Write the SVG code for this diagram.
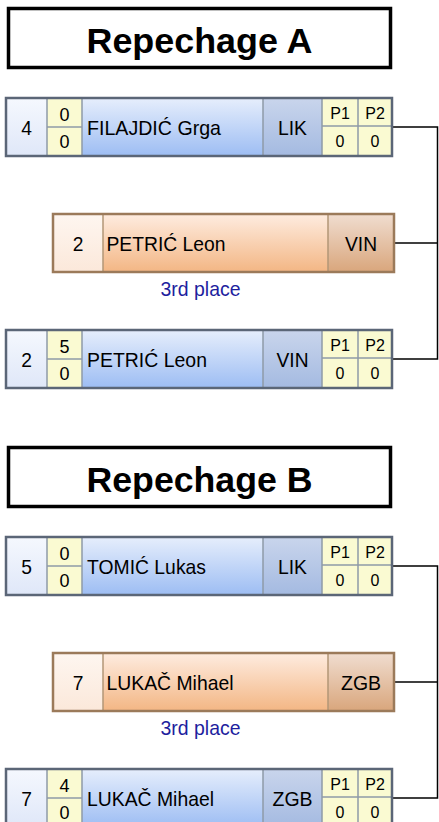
<svg xmlns="http://www.w3.org/2000/svg" width="439" height="822" viewBox="0 0 439 822">
<defs>
<linearGradient id="gNum" x1="0" y1="0" x2="0" y2="1"><stop offset="0" stop-color="#f5f8fe"/><stop offset="1" stop-color="#dfe7f8"/></linearGradient>
<linearGradient id="gName" x1="0" y1="0" x2="0" y2="1"><stop offset="0" stop-color="#e6eefc"/><stop offset="1" stop-color="#9dbdf3"/></linearGradient>
<linearGradient id="gClub" x1="0" y1="0" x2="0" y2="1"><stop offset="0" stop-color="#c9d5ec"/><stop offset="1" stop-color="#a4bae1"/></linearGradient>
<linearGradient id="oNum" x1="0" y1="0" x2="0" y2="1"><stop offset="0" stop-color="#fef6f0"/><stop offset="1" stop-color="#fbe8da"/></linearGradient>
<linearGradient id="oName" x1="0" y1="0" x2="0" y2="1"><stop offset="0" stop-color="#feece0"/><stop offset="1" stop-color="#f3b684"/></linearGradient>
<linearGradient id="oClub" x1="0" y1="0" x2="0" y2="1"><stop offset="0" stop-color="#f0ddd0"/><stop offset="1" stop-color="#d9a67c"/></linearGradient>
</defs>
<style>
text{font-family:"Liberation Sans",Arial,sans-serif;fill:#000}
.title{font-size:35px;font-weight:bold;text-anchor:middle}
.tbox{fill:#fff;stroke:#000;stroke-width:3.5}
.big{font-size:21px}
.mid{text-anchor:middle}
.sc{font-size:18px;text-anchor:middle}
.p{font-size:16px;text-anchor:middle}
.yl{fill:#fafad2}
.sep{stroke:#8f9aa8;stroke-width:1.5}
.osep{stroke:#b39677;stroke-width:1.5}
.bout{fill:none;stroke:#5b6677;stroke-width:2.5}
.oout{fill:none;stroke:#9b7a5a;stroke-width:2.5}
.third{font-size:21px;text-anchor:middle;fill:#1e1e9e}
.conn{fill:none;stroke:#000;stroke-width:1.5}
</style>

<g id="titleA"><rect class="tbox" x="8.5" y="8.5" width="382" height="59"/><text class="title" x="199.5" y="52.5" textLength="226" lengthAdjust="spacingAndGlyphs">Repechage A</text></g>

<g id="connectorsA">
<path class="conn" d="M392 127 H437.5 V359 H392"/>
<path class="conn" d="M394 243 H437.5"/>
</g>

<g id="A1">
<rect x="6" y="98" width="41" height="58" fill="url(#gNum)"/>
<rect class="yl" x="47" y="98" width="35" height="58"/>
<rect x="82" y="98" width="181" height="58" fill="url(#gName)"/>
<rect x="263" y="98" width="59" height="58" fill="url(#gClub)"/>
<rect class="yl" x="322" y="98" width="70" height="58"/>
<path class="sep" d="M47 98V156M82 98V156M263 98V156M322 98V156M358 98V156M47 127H82M322 126H392"/>
<rect class="bout" x="6" y="98" width="386" height="58"/>
<text class="big mid" x="26.5" y="135" textLength="10.7" lengthAdjust="spacingAndGlyphs">4</text>
<text class="sc" x="64.5" y="121">0</text><text class="sc" x="64.5" y="147.5">0</text>
<text class="big" x="87" y="135" textLength="134" lengthAdjust="spacingAndGlyphs">FILAJDIĆ Grga</text>
<text class="big mid" x="292.5" y="135" textLength="29" lengthAdjust="spacingAndGlyphs">LIK</text>
<text class="p" x="340" y="119">P1</text><text class="p" x="375" y="119">P2</text>
<text class="p" x="340" y="147">0</text><text class="p" x="375" y="147">0</text>
</g>

<g id="A2">
<rect x="53" y="214" width="50" height="58" fill="url(#oNum)"/>
<rect x="103" y="214" width="225" height="58" fill="url(#oName)"/>
<rect x="328" y="214" width="66" height="58" fill="url(#oClub)"/>
<path class="osep" d="M103 214V272M328 214V272"/>
<rect class="oout" x="53" y="214" width="341" height="58"/>
<text class="big mid" x="78" y="251" textLength="10.7" lengthAdjust="spacingAndGlyphs">2</text>
<text class="big" x="106.5" y="251" textLength="119" lengthAdjust="spacingAndGlyphs">PETRIĆ Leon</text>
<text class="big mid" x="361" y="251" textLength="32" lengthAdjust="spacingAndGlyphs">VIN</text>
<text class="third" x="200.5" y="296" textLength="80" lengthAdjust="spacingAndGlyphs">3rd place</text>
</g>

<g id="A3">
<rect x="6" y="330" width="41" height="58" fill="url(#gNum)"/>
<rect class="yl" x="47" y="330" width="35" height="58"/>
<rect x="82" y="330" width="181" height="58" fill="url(#gName)"/>
<rect x="263" y="330" width="59" height="58" fill="url(#gClub)"/>
<rect class="yl" x="322" y="330" width="70" height="58"/>
<path class="sep" d="M47 330V388M82 330V388M263 330V388M322 330V388M358 330V388M47 359H82M322 358H392"/>
<rect class="bout" x="6" y="330" width="386" height="58"/>
<text class="big mid" x="26.5" y="367" textLength="10.7" lengthAdjust="spacingAndGlyphs">2</text>
<text class="sc" x="64.5" y="353">5</text><text class="sc" x="64.5" y="379.5">0</text>
<text class="big" x="87" y="367" textLength="120" lengthAdjust="spacingAndGlyphs">PETRIĆ Leon</text>
<text class="big mid" x="292.5" y="367" textLength="32" lengthAdjust="spacingAndGlyphs">VIN</text>
<text class="p" x="340" y="351">P1</text><text class="p" x="375" y="351">P2</text>
<text class="p" x="340" y="379">0</text><text class="p" x="375" y="379">0</text>
</g>

<g id="titleB"><rect class="tbox" x="8.5" y="447.5" width="382" height="59"/><text class="title" x="199.5" y="492" textLength="226" lengthAdjust="spacingAndGlyphs">Repechage B</text></g>

<g id="connectorsB">
<path class="conn" d="M392 566 H437.5 V798 H392"/>
<path class="conn" d="M394 682 H437.5"/>
</g>

<g id="B1">
<rect x="6" y="537" width="41" height="58" fill="url(#gNum)"/>
<rect class="yl" x="47" y="537" width="35" height="58"/>
<rect x="82" y="537" width="181" height="58" fill="url(#gName)"/>
<rect x="263" y="537" width="59" height="58" fill="url(#gClub)"/>
<rect class="yl" x="322" y="537" width="70" height="58"/>
<path class="sep" d="M47 537V595M82 537V595M263 537V595M322 537V595M358 537V595M47 566H82M322 565H392"/>
<rect class="bout" x="6" y="537" width="386" height="58"/>
<text class="big mid" x="26.5" y="574" textLength="10.7" lengthAdjust="spacingAndGlyphs">5</text>
<text class="sc" x="64.5" y="560">0</text><text class="sc" x="64.5" y="586.5">0</text>
<text class="big" x="87" y="574" textLength="119" lengthAdjust="spacingAndGlyphs">TOMIĆ Lukas</text>
<text class="big mid" x="292.5" y="574" textLength="29" lengthAdjust="spacingAndGlyphs">LIK</text>
<text class="p" x="340" y="558">P1</text><text class="p" x="375" y="558">P2</text>
<text class="p" x="340" y="586">0</text><text class="p" x="375" y="586">0</text>
</g>

<g id="B2">
<rect x="53" y="653" width="50" height="58" fill="url(#oNum)"/>
<rect x="103" y="653" width="225" height="58" fill="url(#oName)"/>
<rect x="328" y="653" width="66" height="58" fill="url(#oClub)"/>
<path class="osep" d="M103 653V711M328 653V711"/>
<rect class="oout" x="53" y="653" width="341" height="58"/>
<text class="big mid" x="78" y="690" textLength="10.7" lengthAdjust="spacingAndGlyphs">7</text>
<text class="big" x="106.5" y="690" textLength="127" lengthAdjust="spacingAndGlyphs">LUKAČ Mihael</text>
<text class="big mid" x="361" y="690" textLength="40" lengthAdjust="spacingAndGlyphs">ZGB</text>
<text class="third" x="200.5" y="735" textLength="80" lengthAdjust="spacingAndGlyphs">3rd place</text>
</g>

<g id="B3">
<rect x="6" y="769" width="41" height="58" fill="url(#gNum)"/>
<rect class="yl" x="47" y="769" width="35" height="58"/>
<rect x="82" y="769" width="181" height="58" fill="url(#gName)"/>
<rect x="263" y="769" width="59" height="58" fill="url(#gClub)"/>
<rect class="yl" x="322" y="769" width="70" height="58"/>
<path class="sep" d="M47 769V827M82 769V827M263 769V827M322 769V827M358 769V827M47 798H82M322 797H392"/>
<rect class="bout" x="6" y="769" width="386" height="58"/>
<text class="big mid" x="26.5" y="806" textLength="10.7" lengthAdjust="spacingAndGlyphs">7</text>
<text class="sc" x="64.5" y="792">4</text><text class="sc" x="64.5" y="818.5">0</text>
<text class="big" x="87" y="806" textLength="127" lengthAdjust="spacingAndGlyphs">LUKAČ Mihael</text>
<text class="big mid" x="292.5" y="806" textLength="40" lengthAdjust="spacingAndGlyphs">ZGB</text>
<text class="p" x="340" y="790">P1</text><text class="p" x="375" y="790">P2</text>
<text class="p" x="340" y="818">0</text><text class="p" x="375" y="818">0</text>
</g>
</svg>
